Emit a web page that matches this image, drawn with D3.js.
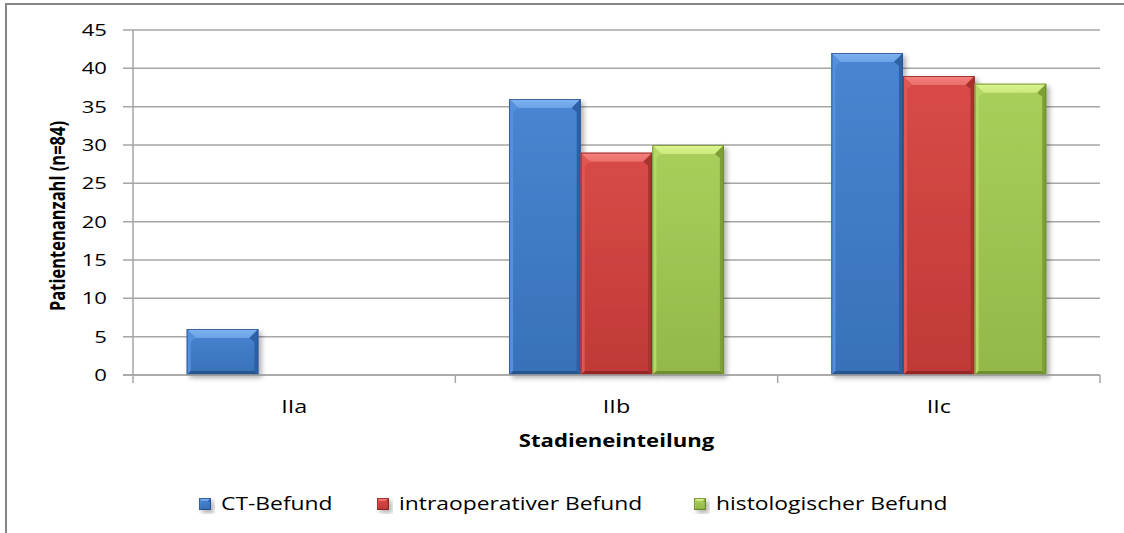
<!DOCTYPE html>
<html>
<head>
<meta charset="utf-8">
<script src="https://cdn.jsdelivr.net/npm/d3@7/dist/d3.min.js"></script>
<style>
  html, body { margin: 0; padding: 0; background: #fff; }
  svg { display: block; }
  text { font-family: "Open Sans", "Noto Sans", sans-serif; fill: #000; }
</style>
</head>
<body>
<svg id="chart" width="1124" height="533"></svg>
<script>
// Stages and the three findings per stage (number of patients, n = 84)
const categories = ["IIa", "IIb", "IIc"];
const seriesNames = ["CT-Befund", "intraoperativer Befund", "histologischer Befund"];
const ctBefund = [6, 36, 42];
const intraoperativ = [0, 29, 39];
const histologisch = [0, 30, 38];
const seriesValues = [ctBefund, intraoperativ, histologisch];
const yTicks = [0, 5, 10, 15, 20, 25, 30, 35, 40, 45];
const yTitle = "Patientenanzahl (n=84)";
const xTitle = "Stadieneinteilung";

// Bevel palettes: face, top, left, right, bottom, outline
const palettes = [
  { face: "#3d7dce", top: "#7fb2f0", left: "#5590dc", right: "#2d61a6", bottom: "#28568f", stroke: "#2a5490" },
  { face: "#d53f3c", top: "#f5817d", left: "#df5653", right: "#a8302e", bottom: "#962826", stroke: "#8c2826" },
  { face: "#a4cc51", top: "#dcf590", left: "#b5d866", right: "#7e9e37", bottom: "#718f2e", stroke: "#6a882c" }
];

const SX = 1.3;  // horizontal stretch of the lettering
const SXL = 1.27; // legend lettering
const svg = d3.select("#chart");

const defs = svg.append("defs");
const shadow = defs.append("filter").attr("id", "barShadow")
  .attr("x", "-20%").attr("y", "-20%").attr("width", "150%").attr("height", "150%");
shadow.append("feDropShadow").attr("dx", 3).attr("dy", 3).attr("stdDeviation", 2.5)
  .attr("flood-color", "#000").attr("flood-opacity", 0.3);

palettes.forEach((p, i) => {
  const g = defs.append("linearGradient").attr("id", "topGrad" + i)
    .attr("x1", 0).attr("y1", 0).attr("x2", 0).attr("y2", 1);
  g.append("stop").attr("offset", "0%").attr("stop-color", p.top);
  g.append("stop").attr("offset", "100%").attr("stop-color", d3.interpolateRgb(p.top, p.face)(0.3));
  const f = defs.append("linearGradient").attr("id", "faceGrad" + i)
    .attr("x1", 0).attr("y1", 0).attr("x2", 0).attr("y2", 1);
  f.append("stop").attr("offset", "0%").attr("stop-color", d3.interpolateRgb(p.face, "#fff")(0.06));
  f.append("stop").attr("offset", "100%").attr("stop-color", d3.interpolateRgb(p.face, "#000")(0.1));
});

// Chart frame (left and top edges visible)
svg.append("rect").attr("x", 6).attr("y", 4).attr("width", 1130).attr("height", 540)
  .attr("fill", "none").attr("stroke", "#868686").attr("stroke-width", 2);

const plot = { left: 133, right: 1100, top: 30, bottom: 375 };

const x0 = d3.scaleBand().domain(categories).range([plot.left, plot.right]).padding(0);
const x1 = d3.scaleBand().domain(d3.range(seriesNames.length))
  .range([0, x0.bandwidth()]).paddingInner(0).paddingOuter(0.75);
const y = d3.scaleLinear().domain([0, 45]).range([plot.bottom, plot.top]);

// Gridlines with tick stubs to the left of the axis
svg.append("g").selectAll("line").data(yTicks).join("line")
  .attr("x1", plot.left - 10).attr("x2", plot.right)
  .attr("y1", d => y(d)).attr("y2", d => y(d))
  .attr("stroke", "#a6a6a6").attr("stroke-width", 1.5);

// Vertical axis line
svg.append("line").attr("x1", plot.left).attr("x2", plot.left)
  .attr("y1", plot.top).attr("y2", plot.bottom + 8)
  .attr("stroke", "#a6a6a6").attr("stroke-width", 1.5);

// Category separators below the horizontal axis
const sepX = categories.map(c => x0(c) + x0.bandwidth());
svg.append("g").selectAll("line").data(sepX).join("line")
  .attr("x1", d => d).attr("x2", d => d)
  .attr("y1", plot.bottom).attr("y2", plot.bottom + 8)
  .attr("stroke", "#a6a6a6").attr("stroke-width", 1.5);

// Y tick labels
svg.append("g").selectAll("text").data(yTicks).join("text")
  .attr("transform", d => `translate(107,${y(d) + 6}) scale(${SX},1)`)
  .attr("text-anchor", "end").attr("font-size", 17)
  .text(d => d);

// Beveled bar drawing
function bevelBar(g, x, yTop, w, h, p, i, b) {
  b = Math.min(b, h / 2, w / 2);
  const grp = g.append("g").attr("filter", "url(#barShadow)");
  grp.append("rect").attr("x", x).attr("y", yTop).attr("width", w).attr("height", h)
    .attr("fill", `url(#faceGrad${i})`);
  const poly = (pts, fill) => grp.append("polygon")
    .attr("points", pts.map(q => q.join(",")).join(" ")).attr("fill", fill);
  const x2 = x + w, y2 = yTop + h, s = b * 0.45;
  poly([[x, yTop], [x2, yTop], [x2 - b, yTop + b], [x + b, yTop + b]], `url(#topGrad${i})`);
  poly([[x, yTop], [x + b, yTop + b], [x + s, yTop + b + s], [x + s, y2 - s], [x, y2]], p.left);
  poly([[x2, yTop], [x2, y2], [x2 - s, y2 - s], [x2 - s, yTop + b + s], [x2 - b, yTop + b]], p.right);
  poly([[x, y2], [x + s, y2 - s], [x2 - s, y2 - s], [x2, y2]], p.bottom);
  grp.append("rect").attr("x", x + 0.5).attr("y", yTop + 0.5).attr("width", w - 1).attr("height", h - 1)
    .attr("fill", "none").attr("stroke", p.stroke).attr("stroke-width", 1).attr("stroke-opacity", 0.8);
}

const barData = [];
categories.forEach((c, ci) => {
  seriesValues.forEach((vals, si) => {
    barData.push({ cat: c, s: si, v: vals[ci] });
  });
});

const barsG = svg.append("g");
barData.filter(d => d.v > 0).forEach(d => {
  const bx = x0(d.cat) + x1(d.s);
  bevelBar(barsG, bx, y(d.v), x1.bandwidth(), y(0) - y(d.v), palettes[d.s], d.s, 9);
});

// Horizontal axis line drawn above the bar bases
svg.append("line").attr("x1", plot.left - 10).attr("x2", plot.right)
  .attr("y1", plot.bottom).attr("y2", plot.bottom)
  .attr("stroke", "#a6a6a6").attr("stroke-width", 1.5);

// Category labels
svg.append("g").selectAll("text").data(categories).join("text")
  .attr("transform", d => `translate(${x0(d) + x0.bandwidth() / 2},413) scale(${SX},1)`)
  .attr("text-anchor", "middle").attr("font-size", 18)
  .text(d => d);

// Axis titles
svg.append("text")
  .attr("transform", `translate(${(plot.left + plot.right) / 2},447) scale(${SX},1)`)
  .attr("text-anchor", "middle").attr("font-size", 17).attr("font-weight", "bold")
  .text(xTitle);

svg.append("text")
  .attr("transform", `translate(65,216) scale(${SX},1) rotate(-90)`)
  .attr("text-anchor", "middle").attr("font-size", 16.5).attr("font-weight", "bold")
  .text(yTitle);

// Legend
const legendX = [199, 377, 694];
const legend = svg.append("g");
seriesNames.forEach((name, i) => {
  bevelBar(legend, legendX[i], 498, 12, 12, palettes[i], i, 3);
  legend.append("text")
    .attr("transform", `translate(${legendX[i] + 22},510) scale(${SXL},1)`)
    .attr("font-size", 18)
    .text(name);
});
</script>
</body>
</html>
